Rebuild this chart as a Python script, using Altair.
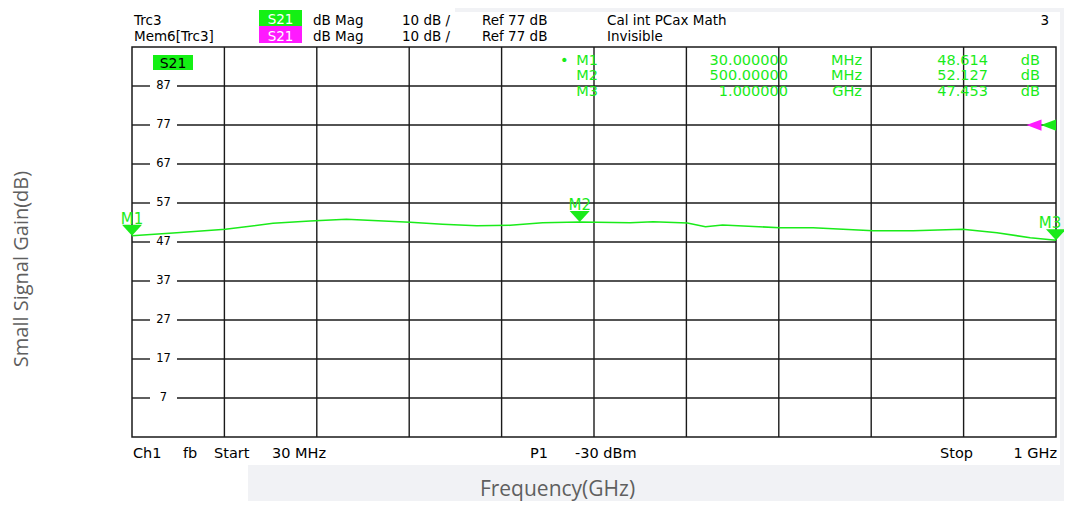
import altair as alt
import pandas as pd

# ---------------- data ----------------
freq_ghz = [0.030, 0.077, 0.128, 0.178, 0.217, 0.255, 0.294, 0.322, 0.356, 0.392,
            0.427, 0.461, 0.500, 0.553, 0.577, 0.613, 0.632, 0.650, 0.710, 0.745,
            0.808, 0.850, 0.902, 0.938, 0.973, 1.000]
gain_db = [48.61, 49.38, 50.26, 51.79, 52.38, 52.82, 52.38, 52.05, 51.54, 51.18,
           51.28, 51.95, 52.13, 51.95, 52.20, 51.87, 50.92, 51.36, 50.67, 50.67,
           49.90, 49.90, 50.26, 49.38, 48.10, 47.45]

marker_names = ["M1", "M2", "M3"]
marker_freq_ghz = [0.030, 0.500, 1.000]
marker_gain_db = [48.614, 52.127, 47.453]
marker_freq_text = ["30.000000", "500.00000", "1.000000"]
marker_unit_text = ["MHz", "MHz", "GHz"]
marker_gain_text = ["48.614", "52.127", "47.453"]

y_tick_values = [87, 77, 67, 57, 47, 37, 27, 17, 7]
start_ghz, stop_ghz = 0.03, 1.0
y_bottom, y_top = -3, 97
n_divisions = 10
ref_level_db = 77

# ---------------- style ----------------
GREEN = "#1aeb1a"
BOXGREEN = "#14f014"
MAGENTA = "#ff1aff"
GRID = "#1a1a1a"
BG = "#f1f2f5"
TITLE = "#5f5f5f"
INST = "DejaVu Sans"
W, H = 924, 390
OX, OY = 132, 47  # page position of plot origin

one = pd.DataFrame({"k": [0]})


def text(s, x, y, size=14, color="black", align="left", baseline="alphabetic",
         font=INST, angle=None):
    kw = dict(text=s, align=align, baseline=baseline, fontSize=size, font=font, color=color)
    if angle is not None:
        kw["angle"] = angle
    return alt.Chart(one).mark_text(**kw).encode(x=alt.value(x - OX), y=alt.value(y - OY))


def box(x1, x2, y1, y2, color):
    return alt.Chart(one).mark_rect(color=color, opacity=1).encode(
        x=alt.value(x1 - OX), x2=alt.value(x2 - OX), y=alt.value(y1 - OY), y2=alt.value(y2 - OY))


xs = alt.Scale(domain=[start_ghz, stop_ghz], nice=False, zero=False)
ys = alt.Scale(domain=[y_bottom, y_top], nice=False, zero=False)
X = alt.X("f:Q", scale=xs, axis=None)
Y = alt.Y("g:Q", scale=ys, axis=None)

curve_df = pd.DataFrame({"f": freq_ghz, "g": gain_db})
mk_df = pd.DataFrame({"f": marker_freq_ghz, "g": marker_gain_db, "name": marker_names,
                      "shift": [0, 0, -6]})
step = (stop_ghz - start_ghz) / n_divisions
vgrid_df = pd.DataFrame({"f": [start_ghz + k * step for k in range(1, n_divisions)]})
hgrid_df = pd.DataFrame({"g": y_tick_values, "lab": [str(v) for v in y_tick_values]})
ref_df = pd.DataFrame({"f": [stop_ghz], "g": [ref_level_db]})

layers = []
# background decoration
layers += [box(455, 1064, 8, 12, BG), box(1060, 1064, 8, 501, BG), box(248, 1064, 465, 501, BG)]

# grid
layers.append(alt.Chart(vgrid_df).mark_rule(color=GRID, strokeWidth=1.4).encode(x=X))
layers.append(alt.Chart(hgrid_df).mark_rule(color=GRID, strokeWidth=1.4).encode(
    x=alt.value(0), x2=alt.value(18), y=Y))
layers.append(alt.Chart(hgrid_df).mark_rule(color=GRID, strokeWidth=1.4).encode(
    x=alt.value(45), x2=alt.value(W), y=Y))
layers.append(alt.Chart(hgrid_df).mark_text(font=INST, fontSize=11.5, color="black",
                                            baseline="middle", align="center").encode(
    x=alt.value(31.5), y=Y, text="lab:N"))

# trace
layers.append(alt.Chart(curve_df).mark_line(color=GREEN, strokeWidth=1.6).encode(x=X, y=Y))

# markers
layers.append(alt.Chart(mk_df).mark_point(shape="M-1,-1.1L1,-1.1L0,0Z", size=400, filled=True,
                                          color=GREEN, opacity=1, strokeWidth=0).encode(x=X, y=Y))
for i, nm in enumerate(marker_names):
    layers.append(alt.Chart(mk_df.iloc[[i]]).mark_text(
        font=INST, fontSize=15, color=GREEN, dy=-12, dx=int(mk_df["shift"][i]),
        baseline="alphabetic").encode(x=X, y=Y, text="name:N"))

# reference level arrows
layers.append(alt.Chart(ref_df).mark_point(shape="M1,-0.75L1,0.75L-1,0Z", size=225, filled=True,
                                           color=MAGENTA, opacity=1, strokeWidth=0, xOffset=-22).encode(x=X, y=Y))
layers.append(alt.Chart(ref_df).mark_point(shape="M1,-0.75L1,0.75L-1,0Z", size=225, filled=True,
                                           color=GREEN, opacity=1, strokeWidth=0, xOffset=-7.5).encode(x=X, y=Y))

# header
HS = 13.5
r1, r2 = 24.5, 40.5
layers += [
    text("Trc3", 134, r1, size=HS), text("Mem6[Trc3]", 134, r2, size=HS),
    box(259, 302, 10, 26, BOXGREEN), box(259, 302, 26, 43, MAGENTA),
    text("S21", 280.5, r1 - 0.5, size=HS, color="white", align="center"),
    text("S21", 280.5, r2, size=HS, color="white", align="center"),
    text("dB Mag", 313, r1, size=HS), text("dB Mag", 313, r2, size=HS),
    text("10 dB /", 402, r1, size=HS), text("10 dB /", 402, r2, size=HS),
    text("Ref 77 dB", 482, r1, size=HS), text("Ref 77 dB", 482, r2, size=HS),
    text("Cal int PCax Math", 607, r1, size=HS), text("Invisible", 607, r2, size=HS),
    text("3", 1049, r1, size=HS, align="right"),
]

# trace label inside plot
layers += [box(153, 193, 55, 70, BOXGREEN), text("S21", 173, 68, size=14, align="center")]

# marker table
TS = 14.5
for i in range(len(marker_names)):
    yb = 64.5 + i * 15.7
    if i == 0:
        layers.append(text("\u2022", 560, yb, size=TS, color=GREEN))
    layers += [
        text(marker_names[i], 598, yb, size=TS, color=GREEN, align="right"),
        text(marker_freq_text[i], 788, yb, size=TS, color=GREEN, align="right"),
        text(marker_unit_text[i], 862, yb, size=TS, color=GREEN, align="right"),
        text(marker_gain_text[i], 988, yb, size=TS, color=GREEN, align="right"),
        text("dB", 1040, yb, size=TS, color=GREEN, align="right"),
    ]

# footer
fb = 457.5
FS = 14.5
layers += [
    text("Ch1", 133, fb, size=FS), text("fb", 183, fb, size=FS),
    text("Start", 214, fb, size=FS), text("30 MHz", 272, fb, size=FS),
    text("P1", 530, fb, size=FS), text("-30 dBm", 575, fb, size=FS),
    text("Stop", 940, fb, size=FS), text("1 GHz", 1057, fb, size=FS, align="right"),
]

# axis titles
layers += [
    text("Small Signal Gain(dB)", 22, 269, size=20, color=TITLE, align="center",
         baseline="middle", font="Open Sans", angle=270),
    text("Frequency(GHz)", 557.5, 496, size=21, color=TITLE, align="center", font="Open Sans"),
]

chart = alt.layer(*layers).properties(
    width=W, height=H,
    autosize=alt.AutoSizeParams(type="none"),
    padding={"left": 124, "top": 39, "right": 8, "bottom": 64},
    background="white",
).configure_view(stroke=GRID, strokeWidth=1.5)

chart.save("out.html", embed_options={"renderer": "svg", "actions": False})
